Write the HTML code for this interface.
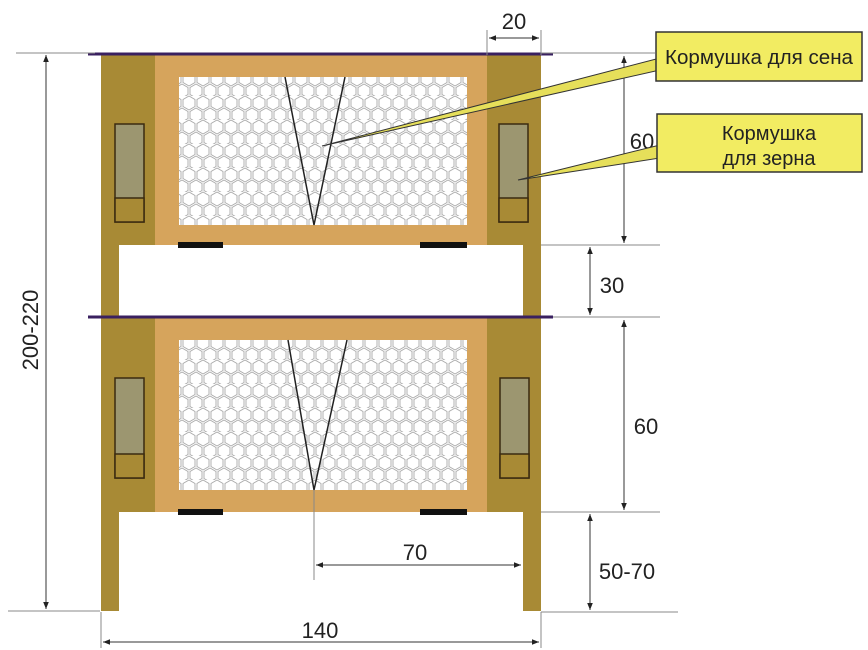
<!DOCTYPE html>
<html><head><meta charset="utf-8"><style>
html,body{margin:0;padding:0;background:#fff;}
svg{display:block;}
text{font-family:"Liberation Sans",sans-serif;fill:#222;}
</style></head><body>
<svg width="868" height="650" viewBox="0 0 868 650" xmlns="http://www.w3.org/2000/svg">
<defs>
<pattern id="hex" width="14" height="24" patternUnits="userSpaceOnUse">
<rect width="14" height="24" fill="#fff"/>
<g fill="none" stroke="#aaa" stroke-width="0.9">
<path d="M7,0 L13,3.5 L13,10.5 L7,14 L1,10.5 L1,3.5 Z"/>
<path d="M0,12 L6,15.5 L6,22.5 L0,26 L-6,22.5 L-6,15.5 Z"/>
<path d="M14,12 L20,15.5 L20,22.5 L14,26 L8,22.5 L8,15.5 Z"/>
<path d="M7,24 L13,27.5 L1,27.5 Z"/>
</g>
</pattern>
<marker id="ar" viewBox="0 0 10 10" refX="10" refY="5" markerWidth="7" markerHeight="7" orient="auto-start-reverse"><path d="M0,1 L10,5 L0,9 z" fill="#222"/></marker>
</defs>

<rect x="101" y="55" width="18" height="556" fill="#a88a35"/>
<rect x="523" y="55" width="18" height="556" fill="#a88a35"/>

<rect x="101" y="55" width="54" height="190" fill="#a88a35"/>
<rect x="487" y="55" width="54" height="190" fill="#a88a35"/>
<rect x="155" y="55" width="332" height="190" fill="#d6a45c"/>
<rect x="179" y="77" width="288" height="148" fill="url(#hex)"/>
<line x1="88" y1="54" x2="553" y2="54" stroke="#3a2060" stroke-width="3"/>
<rect x="178" y="242" width="45" height="6" fill="#111"/>
<rect x="420" y="242" width="47" height="6" fill="#111"/>
<polyline points="285,77 314,225 345,77" fill="none" stroke="#222" stroke-width="1.5"/>
<rect x="115" y="124" width="29" height="98" fill="#9c9670" stroke="#3a2a10" stroke-width="1.5"/>
<rect x="115" y="198" width="29" height="24" fill="#a88a35" stroke="#3a2a10" stroke-width="1.5"/>
<rect x="499" y="124" width="29" height="98" fill="#9c9670" stroke="#3a2a10" stroke-width="1.5"/>
<rect x="499" y="198" width="29" height="24" fill="#a88a35" stroke="#3a2a10" stroke-width="1.5"/>

<rect x="101" y="318" width="54" height="194" fill="#a88a35"/>
<rect x="487" y="318" width="54" height="194" fill="#a88a35"/>
<rect x="155" y="318" width="332" height="194" fill="#d6a45c"/>
<rect x="179" y="340" width="288" height="150" fill="url(#hex)"/>
<line x1="88" y1="317" x2="553" y2="317" stroke="#3a2060" stroke-width="3"/>
<rect x="178" y="509" width="45" height="6" fill="#111"/>
<rect x="420" y="509" width="47" height="6" fill="#111"/>
<polyline points="288,340 314,490 347,340" fill="none" stroke="#222" stroke-width="1.5"/>
<rect x="115" y="378" width="29" height="100" fill="#9c9670" stroke="#3a2a10" stroke-width="1.5"/>
<rect x="115" y="454" width="29" height="24" fill="#a88a35" stroke="#3a2a10" stroke-width="1.5"/>
<rect x="500" y="378" width="29" height="100" fill="#9c9670" stroke="#3a2a10" stroke-width="1.5"/>
<rect x="500" y="454" width="29" height="24" fill="#a88a35" stroke="#3a2a10" stroke-width="1.5"/>

<g stroke="#888" stroke-width="1" fill="none">
<line x1="16" y1="53" x2="95" y2="53"/>
<line x1="8" y1="611" x2="100" y2="611"/>
<line x1="541" y1="53" x2="655" y2="53"/>
<line x1="541" y1="245" x2="660" y2="245"/>
<line x1="553" y1="317" x2="660" y2="317"/>
<line x1="541" y1="512" x2="660" y2="512"/>
<line x1="541" y1="612" x2="678" y2="612"/>
<line x1="487" y1="30" x2="487" y2="55"/>
<line x1="541" y1="30" x2="541" y2="55"/>
<line x1="101" y1="612" x2="101" y2="648"/>
<line x1="541" y1="612" x2="541" y2="648"/>
<line x1="314" y1="490" x2="314" y2="580"/>
</g>
<g stroke="#333" stroke-width="1" marker-end="url(#ar)" marker-start="url(#ar)">
<line x1="46" y1="55" x2="46" y2="609"/>
<line x1="103" y1="642" x2="539" y2="642"/>
<line x1="316" y1="565" x2="521" y2="565"/>
<line x1="489" y1="38" x2="539" y2="38"/>
<line x1="624" y1="56" x2="624" y2="243"/>
<line x1="590" y1="247" x2="590" y2="315"/>
<line x1="624" y1="320" x2="624" y2="510"/>
<line x1="590" y1="514" x2="590" y2="610"/>
</g>

<g font-size="22">
<text x="514" y="29" text-anchor="middle">20</text>
<text x="642" y="149" text-anchor="middle">60</text>
<text x="612" y="293" text-anchor="middle">30</text>
<text x="646" y="434" text-anchor="middle">60</text>
<text x="627" y="579" text-anchor="middle">50-70</text>
<text x="415" y="560" text-anchor="middle">70</text>
<text x="320" y="638" text-anchor="middle">140</text>
<text transform="translate(38,330) rotate(-90)" text-anchor="middle">200-220</text>
</g>

<polygon points="322,146 660,58 660,70" fill="#e6df5a" stroke="#333" stroke-width="1"/>
<polygon points="518,180 660,145 660,158" fill="#e6df5a" stroke="#333" stroke-width="1"/>
<rect x="656" y="32" width="206" height="49" fill="#f2ec62" stroke="#333" stroke-width="1.5"/>
<rect x="657" y="114" width="205" height="58" fill="#f2ec62" stroke="#333" stroke-width="1.5"/>
<g font-size="20">
<text x="759" y="64" text-anchor="middle" textLength="188" lengthAdjust="spacingAndGlyphs">Кормушка для сена</text>
<text x="769" y="140" text-anchor="middle">Кормушка</text>
<text x="769" y="165" text-anchor="middle">для зерна</text>
</g>
</svg>
</body></html>
